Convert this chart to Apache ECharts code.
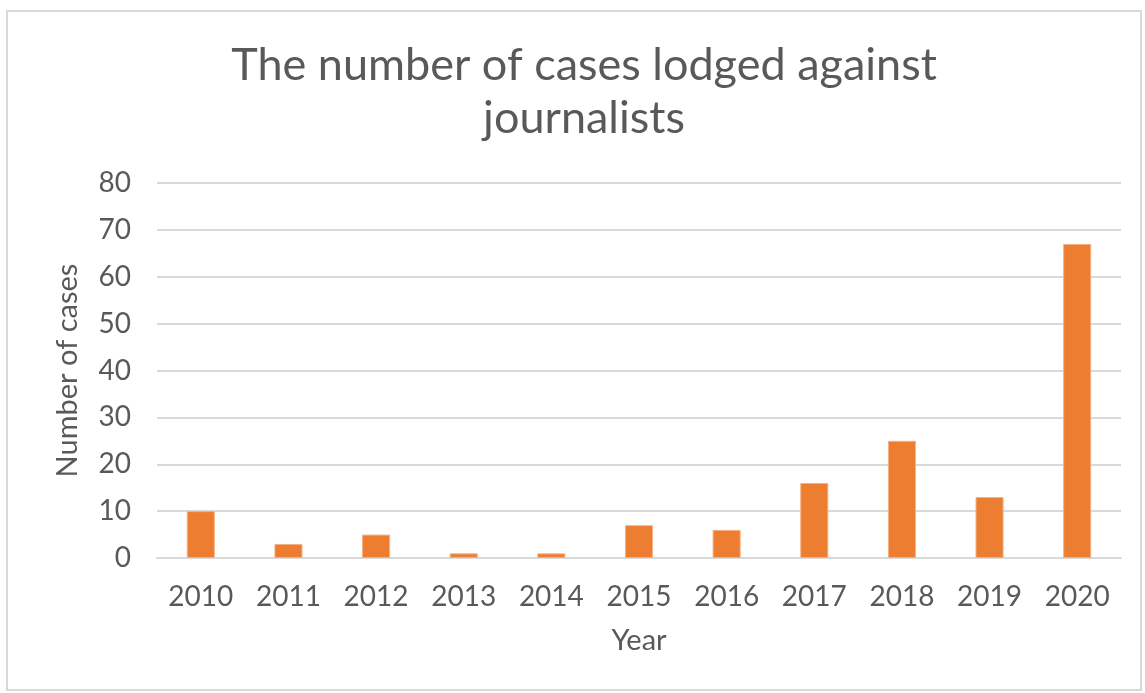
<!DOCTYPE html>
<html>
<head>
<meta charset="utf-8">
<script src="https://cdn.jsdelivr.net/npm/echarts@6/dist/echarts.min.js"></script>
<style>
html,body{margin:0;padding:0;background:#fff;}
#c{width:1145px;height:693px;}
</style>
</head>
<body>
<div id="c"></div>
<script>
const categories = ['2010','2011','2012','2013','2014','2015','2016','2017','2018','2019','2020'];
const cases = [10, 3, 5, 1, 1, 7, 6, 16, 25, 13, 67];
const titleText = 'The number of cases lodged against\njournalists';
const yAxisName = 'Number of cases';
const xAxisName = 'Year';

const chart = echarts.init(document.getElementById('c'));
chart.setOption({
  backgroundColor: '#fff',
  animation: false,
  graphic: [{
    type: 'rect',
    shape: {x: 7, y: 11, width: 1134, height: 679},
    style: {fill: 'none', stroke: '#d9d9d9', lineWidth: 2},
    silent: true, z: -1
  }],
  title: {
    text: titleText,
    left: 579, top: 34,
    textAlign: 'center',
    textStyle: {fontFamily: 'Lato', fontWeight: 'normal', fontSize: 45, color: '#595959', lineHeight: 53}
  },
  grid: {left: 157, right: 24, top: 183, bottom: 135, containLabel: false},
  xAxis: {
    type: 'category',
    data: categories,
    name: xAxisName,
    nameLocation: 'middle',
    nameGap: 68,
    nameTextStyle: {fontFamily: 'Lato', fontSize: 29, color: '#595959'},
    axisLine: {show: true, lineStyle: {color: '#d9d9d9', width: 2}},
    axisTick: {show: false},
    axisLabel: {fontFamily: 'Lato', fontSize: 28, color: '#595959', margin: 25}
  },
  yAxis: {
    type: 'value',
    min: 0, max: 80, interval: 10,
    name: yAxisName,
    nameLocation: 'middle',
    nameGap: 75,
    nameTextStyle: {fontFamily: 'Lato', fontSize: 29, color: '#595959'},
    axisLine: {show: false},
    axisTick: {show: false},
    splitLine: {lineStyle: {color: '#d9d9d9', width: 2}},
    axisLabel: {fontFamily: 'Lato', fontSize: 28, color: '#595959', margin: 26}
  },
  series: [{
    type: 'bar',
    data: cases,
    barWidth: '32%',
    itemStyle: {color: '#ED7D31', borderColor: '#f4b183', borderWidth: 1}
  }]
});
</script>
</body>
</html>
